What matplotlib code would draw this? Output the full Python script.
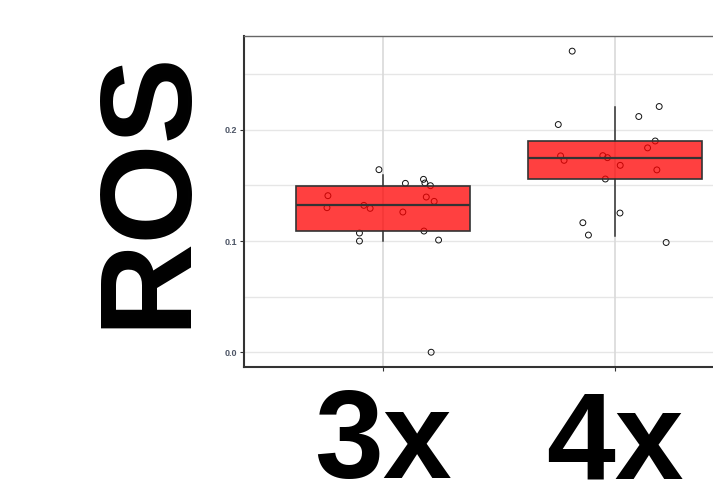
import matplotlib
matplotlib.use("Agg")
import matplotlib.pyplot as plt
import numpy as np

plt.rcParams['font.family'] = ['Liberation Sans', 'DejaVu Sans']

categories = ["3x", "4x"]
y_label = "ROS"

# box statistics per group
q1 = [0.109, 0.1558]
med = [0.1321, 0.175]
q3 = [0.1498, 0.1897]
whislo = [0.100, 0.1048]
whishi = [0.1597, 0.2207]

# jittered points: x positions (category index 1-based with jitter) and values
x_3x = [0.983, 1.097, 1.175, 1.181, 1.205, 0.763, 1.187, 1.221, 0.918, 0.759,
        0.945, 1.086, 1.177, 0.899, 0.899, 1.240, 1.208]
y_3x = [0.1642, 0.1519, 0.1555, 0.1522, 0.1498, 0.1408, 0.1396, 0.1357, 0.1321,
        0.1300, 0.1294, 0.1261, 0.1090, 0.1072, 0.1000, 0.1009, 0.0000]
x_4x = [1.816, 2.191, 2.103, 1.756, 2.174, 2.141, 1.766, 1.948, 1.968, 1.781,
        2.023, 2.181, 1.959, 2.022, 1.862, 1.886, 2.221]
y_4x = [0.2708, 0.2210, 0.2120, 0.2048, 0.1900, 0.1838, 0.1766, 0.1768, 0.1750,
        0.1726, 0.1681, 0.1640, 0.1558, 0.1252, 0.1165, 0.1054, 0.0987]

yticks = [0.0, 0.1, 0.2]
ytick_labels = ["0.0", "0.1", "0.2"]
minor_grid = [0.05, 0.15, 0.25]

fig = plt.figure(figsize=(7.13, 4.95), dpi=100)
ax = fig.add_axes([0.3418, 0.258, 0.7158, 0.669])

for v in yticks + minor_grid:
    ax.axhline(v, color='#E6E6E6', lw=1.0, zorder=0)
for i in range(len(categories)):
    ax.axvline(i + 1, color='#D9D9D9', lw=1.2, zorder=0)

ax.scatter(x_3x + x_4x, y_3x + y_4x, s=18, facecolors='none', edgecolors='#111111',
           linewidths=0.7, zorder=2)

stats = []
for i in range(len(categories)):
    stats.append(dict(med=med[i], q1=q1[i], q3=q3[i], whislo=whislo[i], whishi=whishi[i],
                      fliers=[]))
bp = ax.bxp(stats, positions=[1, 2], widths=0.75, patch_artist=True, showcaps=False,
            showfliers=False, manage_ticks=False,
            boxprops=dict(facecolor=(1, 0, 0, 0.75), edgecolor='#333333', linewidth=1.2),
            medianprops=dict(color='#333333', linewidth=1.6),
            whiskerprops=dict(color='#333333', linewidth=1.1))
for p in bp['boxes']:
    p.set_zorder(3)
for l in bp['medians']:
    l.set_zorder(4)

ax.set_xlim(0.4, 2.6)
ax.set_ylim(-0.01354, 0.2843)
ax.set_xticks([1, 2])
ax.set_xticklabels(categories, fontsize=89, fontweight='bold', color='black')
ax.set_yticks(yticks)
ax.set_yticklabels(ytick_labels, fontsize=6.5, fontweight='bold', color='#4D5566')
ax.tick_params(axis='both', length=3, width=0.8, color='#333333')
ax.tick_params(axis='x', pad=12)
ax.tick_params(axis='y', pad=2)
ax.set_ylabel(y_label, fontsize=93, fontweight='bold', labelpad=10)
ax.yaxis.label.set_y(0.54)

for s in ['left', 'bottom']:
    ax.spines[s].set_color('#333333')
    ax.spines[s].set_linewidth(1.5)
ax.spines['top'].set_color('#666666')
ax.spines['top'].set_linewidth(1.0)
ax.spines['right'].set_visible(False)

fig.savefig("out.png", dpi=100)
